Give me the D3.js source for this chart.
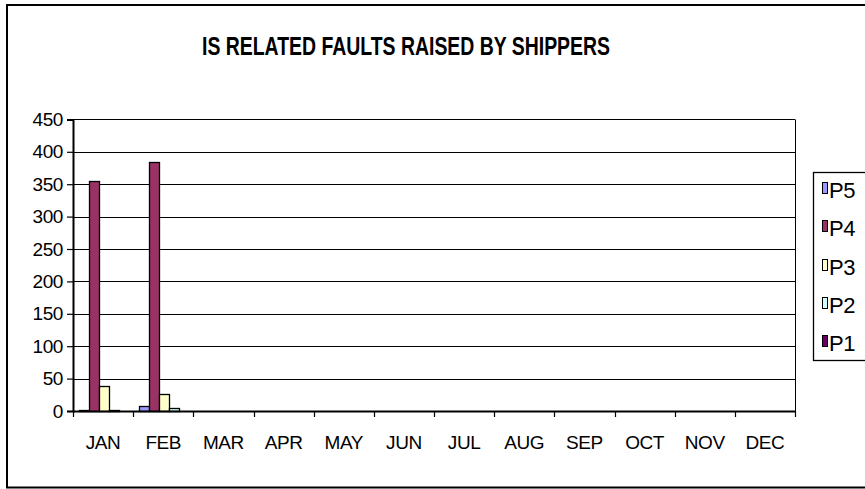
<!DOCTYPE html>
<html>
<head>
<meta charset="utf-8">
<script src="https://cdn.jsdelivr.net/npm/d3@7"></script>
<style>
  html, body { margin: 0; padding: 0; background: #fff; }
  svg { display: block; font-family: "Liberation Sans", Arial, sans-serif; }
</style>
</head>
<body>
<svg id="chart" width="865" height="489"></svg>
<script>
// ---- data ----
const months = ["JAN","FEB","MAR","APR","MAY","JUN","JUL","AUG","SEP","OCT","NOV","DEC"];
const seriesNames = ["P5","P4","P3","P2","P1"];
const seriesColors = ["#9999FF","#993366","#FFFFCC","#CCFFFF","#660066"];
const P5 = [1, 8, 0,0,0,0,0,0,0,0,0,0];
const P4 = [355, 385, 0,0,0,0,0,0,0,0,0,0];
const P3 = [39, 27, 0,0,0,0,0,0,0,0,0,0];
const P2 = [1, 5, 0,0,0,0,0,0,0,0,0,0];
const P1 = [0, 0, 0,0,0,0,0,0,0,0,0,0];
const yTicks = [0,50,100,150,200,250,300,350,400,450];
const title = "IS RELATED FAULTS RAISED BY SHIPPERS";

const seriesValues = [P5, P4, P3, P2, P1];

const svg = d3.select("#chart");

// outer chart border
svg.append("rect")
  .attr("x", 7).attr("y", 5).attr("width", 900).attr("height", 482.5)
  .attr("fill", "#fff").attr("stroke", "#000").attr("stroke-width", 2);

// title
svg.append("text")
  .attr("x", 406).attr("y", 55)
  .attr("text-anchor", "middle")
  .attr("font-size", 25).attr("font-weight", "bold")
  .attr("textLength", 408).attr("lengthAdjust", "spacingAndGlyphs")
  .text(title);

// scales
const plot = { left: 73, right: 795, top: 119.4, bottom: 411 };
const x0 = d3.scaleBand().domain(months).range([plot.left, plot.right]).padding(0);
const x1 = d3.scaleBand().domain(seriesNames).range([0, x0.bandwidth()])
  .paddingInner(0).paddingOuter(0.5).align(0.6);
const y = d3.scaleLinear().domain([0, 450]).range([plot.bottom, plot.top]);

// gridlines
svg.append("g").selectAll("line").data(yTicks).join("line")
  .attr("x1", plot.left).attr("x2", plot.right)
  .attr("y1", d => Math.round(y(d)) + 0.5).attr("y2", d => Math.round(y(d)) + 0.5)
  .attr("stroke", "#000").attr("stroke-width", 1);

// right edge of plot
svg.append("line")
  .attr("x1", plot.right + 0.5).attr("x2", plot.right + 0.5)
  .attr("y1", Math.round(y(450)) + 0.5).attr("y2", plot.bottom)
  .attr("stroke", "#000").attr("stroke-width", 1);

// bars
const barData = [];
months.forEach((m, i) => {
  seriesNames.forEach((s, j) => {
    barData.push({ month: m, series: s, value: seriesValues[j][i], color: seriesColors[j] });
  });
});
svg.append("g").selectAll("rect").data(barData.filter(d => d.value > 0)).join("rect")
  .attr("x", d => Math.round(x0(d.month) + x1(d.series)) + 0.5)
  .attr("y", d => Math.round(y(d.value)) + 0.5)
  .attr("width", Math.round(x1.bandwidth()))
  .attr("height", d => Math.max(1, Math.round(y(0)) - Math.round(y(d.value))))
  .attr("fill", d => d.color)
  .attr("stroke", "#000").attr("stroke-width", 1.3);

// y axis
const yAxis = d3.axisLeft(y).tickValues(yTicks).tickSize(6).tickPadding(4).tickFormat(d3.format("d"));
const gy = svg.append("g").attr("transform", `translate(${plot.left},0)`).call(yAxis);
gy.select(".domain").attr("stroke", "#000").attr("stroke-width", 2);
gy.selectAll(".tick line").attr("stroke", "#000").attr("stroke-width", 1.2);
gy.selectAll(".tick text")
  .attr("font-size", 19).attr("fill", "#000")
  .attr("letter-spacing", -0.4)
  .attr("font-family", "Liberation Sans, Arial, sans-serif");

// x axis
const xAxis = d3.axisBottom(x0).tickSize(0).tickPadding(25);
const gx = svg.append("g").attr("transform", `translate(0,${plot.bottom})`).call(xAxis);
gx.select(".domain").attr("stroke", "#000").attr("stroke-width", 2);
gx.selectAll(".tick text")
  .attr("font-size", 19).attr("fill", "#000")
  .attr("letter-spacing", -0.4)
  .attr("font-family", "Liberation Sans, Arial, sans-serif");
// category boundary ticks
const boundaries = months.map(m => x0(m)).concat([plot.right]);
svg.append("g").selectAll("line").data(boundaries).join("line")
  .attr("x1", d => Math.round(d) + 0.5).attr("x2", d => Math.round(d) + 0.5)
  .attr("y1", plot.bottom).attr("y2", plot.bottom + 6)
  .attr("stroke", "#000").attr("stroke-width", 1.2);

// legend
const lg = svg.append("g");
lg.append("rect")
  .attr("x", 813.5).attr("y", 172.5).attr("width", 80).attr("height", 188)
  .attr("fill", "#fff").attr("stroke", "#000").attr("stroke-width", 1.3);
const legendY = d3.scalePoint().domain(seriesNames).range([188, 341]);
seriesNames.forEach((s, j) => {
  const cy = legendY(s);
  lg.append("rect")
    .attr("x", 822.5).attr("y", Math.round(cy - 6) + 0.5)
    .attr("width", 5).attr("height", 11)
    .attr("fill", seriesColors[j]).attr("stroke", "#000").attr("stroke-width", 1);
  lg.append("text")
    .attr("x", 829).attr("y", cy + 10)
    .attr("font-size", 22).attr("fill", "#000")
    .attr("letter-spacing", -0.5)
    .text(s);
});
</script>
</body>
</html>
